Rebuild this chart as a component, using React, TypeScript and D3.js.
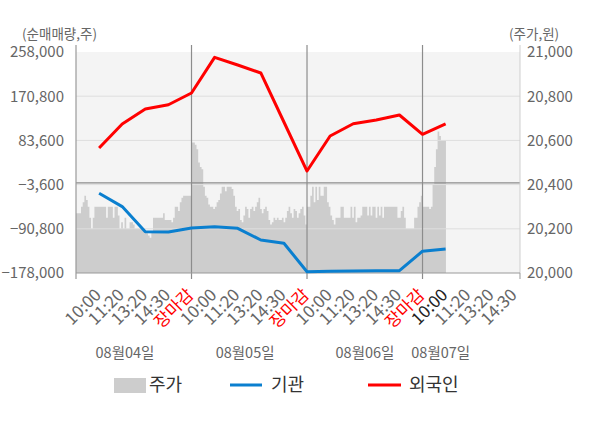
import React from 'react';
import * as d3 from 'd3';

const leftTicks = [258000, 170800, 83600, -3600, -90800, -178000];
const rightTicks = [21000, 20800, 20600, 20400, 20200, 20000];
const dayLabels = ['08월04일', '08월05일', '08월06일', '08월07일'];
const dayLabelPos = [2.12, 7.32, 12.51, 15.79];
const timeLabels = [
  '10:00', '11:20', '13:20', '14:30', '장마감',
  '10:00', '11:20', '13:20', '14:30', '장마감',
  '10:00', '11:20', '13:20', '14:30', '장마감',
  '10:00', '11:20', '13:20', '14:30',
];
const currentLabelIndex = 15;

// 외국인 / 기관 net volume at slots 1..16
const foreign = [68600, 116000, 145500, 154000, 177100, 247500, 232400, 216600, 119900, 23200, 92300, 116500, 123800, 133700, 95600, 116000];
const institution = [-20800, -47000, -96500, -97000, -89200, -86600, -89800, -112900, -119400, -175400, -174700, -174000, -173400, -173400, -135000, -130600];

// price samples per day
const priceDay1 = [
  20270, 20270, 20270, 20300, 20320, 20350, 20330, 20300, 20250, 20200,
  20250, 20300, 20300, 20300, 20300, 20300, 20300, 20300, 20250, 20300,
  20300, 20300, 20250, 20300, 20300, 20260, 20200, 20230, 20200, 20250,
  20200, 20200, 20230, 20230, 20220, 20200, 20200, 20200, 20200, 20200,
  20190, 20190, 20180, 20170, 20160, 20190, 20250, 20250, 20250, 20250,
  20250, 20250, 20270, 20240, 20240, 20240, 20240, 20230, 20250, 20300,
  20300, 20280, 20320, 20340, 20350, 20350, 20350, 20350, 20350,
];
const priceDay2 = [
  20590, 20590, 20580, 20560, 20500, 20480, 20470, 20390, 20350, 20340,
  20310, 20300, 20300, 20290, 20300, 20320, 20330, 20360, 20390, 20390,
  20370, 20390, 20390, 20390, 20380, 20350, 20300, 20280, 20290, 20240,
  20230, 20260, 20300, 20290, 20250, 20290, 20300, 20280, 20300, 20320,
  20340, 20290, 20270, 20290, 20300, 20280, 20240, 20220, 20230, 20250,
  20240, 20250, 20240, 20240, 20250, 20230, 20250, 20280, 20300, 20270,
  20250, 20290, 20280, 20250, 20270, 20290, 20300, 20260, 20220,
];
const priceDay3 = [
  20300, 20300, 20350, 20390, 20320, 20390, 20330, 20390, 20350, 20350,
  20390, 20390, 20320, 20300, 20260, 20240, 20220, 20250, 20250, 20250,
  20300, 20300, 20250, 20250, 20250, 20250, 20300, 20250, 20300, 20230,
  20250, 20250, 20260, 20300, 20300, 20300, 20260, 20300, 20260, 20300,
  20300, 20250, 20300, 20260, 20300, 20250, 20300, 20300, 20300, 20300,
  20300, 20300, 20300, 20300, 20250, 20250, 20280, 20300, 20250, 20200,
  20200, 20200, 20200, 20200, 20250, 20250, 20300, 20320, 20350,
];
const priceDay4 = [20300, 20300, 20300, 20300, 20290, 20300, 20400, 20480, 20560, 20640, 20620, 20600, 20600, 20600];
const priceDays = [priceDay1, priceDay2, priceDay3, priceDay4];

const W = 600;
const H = 428;
const FONT = '"Noto Sans CJK KR", "Noto Sans", sans-serif';

export default function App() {
  const left = 76, right = 520, top = 52, bottom = 273;
  const slotsPerDay = 5;
  const samplesPerDay = 69;
  const x = d3.scaleLinear().domain([0, 19.22]).range([left, right]);
  const yL = d3.scaleLinear().domain([-178000, 258000]).range([bottom, top]);
  const yR = d3.scaleLinear().domain([20000, 21000]).range([bottom, top]);

  const area = d3.area<[number, number]>()
    .x((d) => x(d[0]))
    .y0(bottom)
    .y1((d) => yR(d[1]))
    .curve(d3.curveStepAfter);

  const areaPaths = priceDays.map((vals, d) => {
    const step = slotsPerDay / samplesPerDay;
    const pts: [number, number][] = vals.map((v, i) => [d * slotsPerDay + i * step, v]);
    pts.push([d * slotsPerDay + vals.length * step, vals[vals.length - 1]]);
    return area(pts) || '';
  });

  const lineL = d3.line<number>().x((_, i) => x(i + 1)).y((v) => yL(v));

  const boundaries = [0, 5, 10, 15];
  const gridTicks = leftTicks.slice(1, -1);

  return (
    <svg width={W} height={H} style={{ display: 'block', position: 'absolute', left: 0, top: 0 }} fontFamily={FONT}>
      <rect x={0} y={0} width={W} height={H} fill="#ffffff" />
      <rect x={left} y={top} width={right - left} height={bottom - top} fill="#f4f4f4" />
      {areaPaths.map((p, i) => (
        <path key={i} d={p} fill="#cdcdcd" />
      ))}
      {gridTicks.map((t) => (
        <line key={t} x1={left} x2={right} y1={yL(t)} y2={yL(t)} stroke="#dedede" strokeWidth={1} />
      ))}
      <line x1={left} x2={right} y1={yL(0)} y2={yL(0)} stroke="#8c8c8c" strokeWidth={1.2} />
      {boundaries.map((b) => (
        <line key={b} x1={x(b)} x2={x(b)} y1={45} y2={279} stroke={b === 0 ? '#999' : '#8c8c8c'} strokeWidth={1.2} />
      ))}
      <line x1={right} x2={right} y1={45} y2={bottom} stroke="#cfcfcf" strokeWidth={1} />
      <line x1={right} x2={right} y1={bottom} y2={279} stroke="#999" strokeWidth={1} />
      <line x1={left} x2={right} y1={bottom} y2={bottom} stroke="#999" strokeWidth={1.2} />

      <path d={lineL(institution) || ''} fill="none" stroke="#0a7fcf" strokeWidth={3} strokeLinejoin="round" />
      <path d={lineL(foreign) || ''} fill="none" stroke="#ff0000" strokeWidth={3} strokeLinejoin="round" />

      {/* left axis */}
      <text x={22} y={39} fontSize={13.5} fill="#666">(순매매량,주)</text>
      {leftTicks.map((t) => (
        <text key={t} x={64} y={yL(t)} dy="0.36em" textAnchor="end" fontSize={15} fill="#666">
          {d3.format(',')(t)}
        </text>
      ))}
      {/* right axis */}
      <text x={509} y={39} fontSize={13.5} fill="#666">(주가,원)</text>
      {rightTicks.map((t) => (
        <text key={t} x={527} y={yR(t)} dy="0.36em" textAnchor="start" fontSize={15} fill="#666">
          {d3.format(',')(t)}
        </text>
      ))}

      {/* time labels */}
      {timeLabels.map((lab, k) => {
        const px = x(k + 1) + 3;
        const color = lab === '장마감' ? '#ff0000' : k === currentLabelIndex ? '#222' : '#666';
        return (
          <text key={k} transform={`translate(${px},296) rotate(-45)`} textAnchor="end" fontSize={17} fill={color}>
            {lab}
          </text>
        );
      })}
      {dayLabels.map((lab, i) => (
        <text key={lab} x={x(dayLabelPos[i])} y={358} textAnchor="middle" fontSize={14.5} fill="#666">
          {lab}
        </text>
      ))}

      {/* legend */}
      <rect x={114} y={378} width={32} height={15} fill="#cdcdcd" />
      <text x={149} y={391} fontSize={18} fill="#333">주가</text>
      <line x1={230} x2={262} y1={385} y2={385} stroke="#0a7fcf" strokeWidth={3} />
      <text x={271} y={391} fontSize={18} fill="#333">기관</text>
      <line x1={368} x2={401} y1={385} y2={385} stroke="#ff0000" strokeWidth={3} />
      <text x={409} y={391} fontSize={18} fill="#333">외국인</text>
    </svg>
  );
}
